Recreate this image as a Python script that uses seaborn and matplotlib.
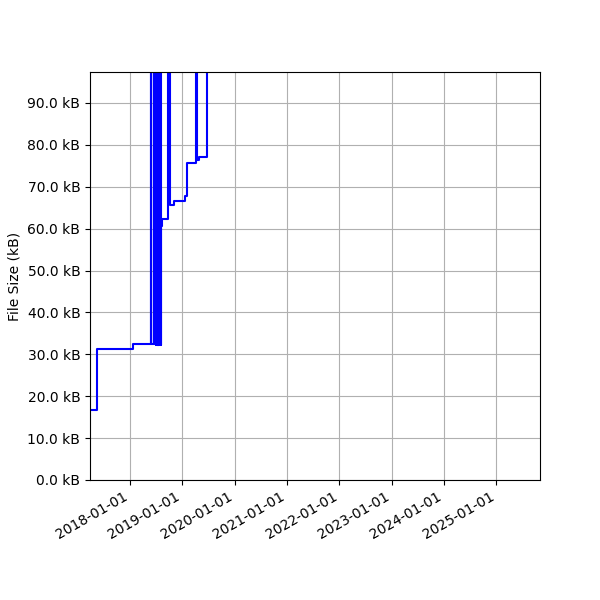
import matplotlib
matplotlib.use('Agg')
import matplotlib.pyplot as plt
import matplotlib.dates as mdates
import matplotlib.ticker as mticker
import seaborn as sns
import pandas as pd

# commit dates and file sizes (kB), values above the y-limit are off-chart spikes
dates = [
    "2017-03-27", "2017-05-14", "2018-01-20",
    "2018-05-28", "2018-05-30", "2018-06-14", "2018-06-16", "2018-06-18",
    "2018-06-20", "2018-06-22", "2018-06-24", "2018-06-26", "2018-06-28",
    "2018-06-30", "2018-07-02", "2018-07-04", "2018-07-06", "2018-07-08",
    "2018-07-10", "2018-07-12", "2018-07-14", "2018-07-16", "2018-07-18",
    "2018-07-20", "2018-07-22", "2018-07-24", "2018-07-26", "2018-07-28",
    "2018-07-30", "2018-08-01", "2018-08-03",
    "2018-08-06", "2018-08-10", "2018-09-24", "2018-10-04", "2018-11-05",
    "2019-01-20", "2019-02-01", "2019-04-05", "2019-04-14", "2019-04-28",
    "2019-06-24", "2021-01-01", "2023-01-01", "2025-11-02",
]
sizes_kb = [
    16.6, 31.3, 32.5,
    130.0, 32.5, 130.0, 32.5, 130.0,
    32.4, 130.0, 32.5, 130.0, 32.3,
    130.0, 32.5, 130.0, 32.4, 130.0,
    32.2, 130.0, 32.5, 130.0, 32.3,
    130.0, 32.2, 130.0, 32.4, 130.0,
    32.3, 130.0, 32.2,
    60.7, 62.3, 130.0, 65.7, 66.6,
    67.9, 75.7, 130.0, 76.5, 77.2,
    140.0, 150.0, 160.0, 170.0,
]

x_start = "2017-03-27"
x_end = "2025-11-02"
y_top = 97.4

plt.rcParams['path.simplify'] = False

df = pd.DataFrame({"date": pd.to_datetime(dates), "size": sizes_kb})

fig, ax = plt.subplots(figsize=(6, 6), dpi=100)
sns.lineplot(data=df, x="date", y="size", ax=ax, color="blue",
             drawstyle="steps-post", estimator=None, linewidth=1.5)

ax.set_xlim(pd.Timestamp(x_start), pd.Timestamp(x_end))
ax.set_ylim(0, y_top)
ax.yaxis.set_major_locator(mticker.MultipleLocator(10))
ax.yaxis.set_major_formatter(mticker.FuncFormatter(lambda v, p: f"{v:.1f} kB"))
ax.xaxis.set_major_locator(mdates.YearLocator())
ax.xaxis.set_major_formatter(mdates.DateFormatter("%Y-%m-%d"))
ax.set_xlabel("")
ax.set_ylabel("File Size (kB)")
ax.grid(True)

fig.autofmt_xdate()
fig.subplots_adjust(left=0.15, right=0.9, bottom=0.2, top=0.88)
fig.savefig("out.png")
